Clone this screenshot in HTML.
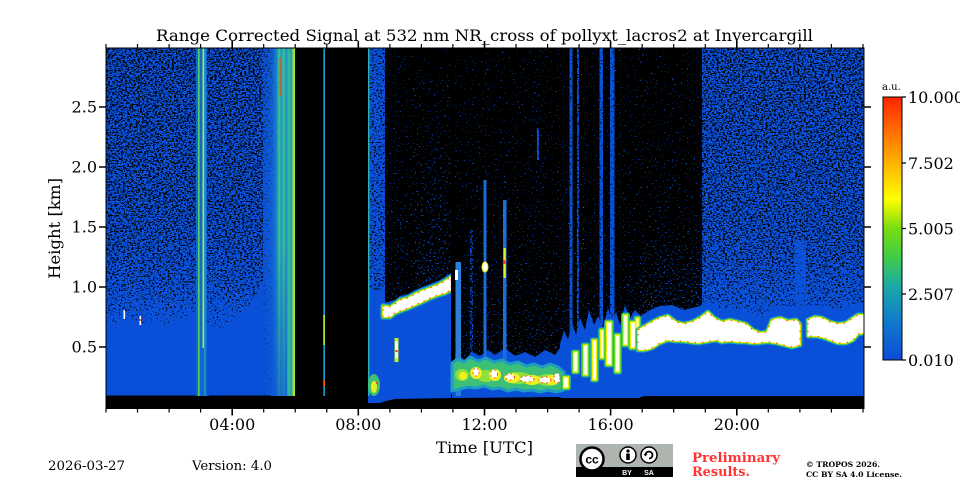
<!DOCTYPE html>
<html><head><meta charset="utf-8"><style>
html,body{margin:0;padding:0;background:#fff;}
svg{display:block;}
text{font-family:"DejaVu Serif","Liberation Serif",serif;fill:#000;}
</style></head><body>
<svg width="960" height="480" viewBox="0 0 960 480" xmlns="http://www.w3.org/2000/svg">
<defs>
 <filter id="spk" filterUnits="userSpaceOnUse" x="106" y="48" width="758" height="360" color-interpolation-filters="sRGB">
  <feTurbulence type="fractalNoise" baseFrequency="0.47 0.71" numOctaves="2" seed="11" result="t"/>
  <feColorMatrix in="t" type="matrix" values="0 0 0 0.7 0.15  0 0 0 0 0  0 0 0 0 0  0 0 0 0 1" result="n"/>
  <feComposite in="n" in2="SourceGraphic" operator="arithmetic" k1="0" k2="1" k3="1" k4="-0.5" result="c"/>
  <feColorMatrix in="c" type="matrix" values="0 0 0 0 0.04  0 0 0 0 0.32  0 0 0 0 0.86  1 0 0 0 0" result="a"/>
  <feComponentTransfer in="a"><feFuncA type="discrete" tableValues="0 1"/></feComponentTransfer>
 </filter>
 <clipPath id="pc"><rect x="106" y="48" width="758" height="361"/></clipPath>
 <linearGradient id="dL" gradientUnits="userSpaceOnUse" x1="0" y1="48" x2="0" y2="395">
  <stop offset="0" stop-color="#868686"/><stop offset="0.44" stop-color="#888888"/>
  <stop offset="0.58" stop-color="#8b8b8b"/><stop offset="0.70" stop-color="#919191"/>
  <stop offset="0.78" stop-color="#a0a0a0"/>
 </linearGradient>
 <linearGradient id="dM" gradientUnits="userSpaceOnUse" x1="0" y1="48" x2="0" y2="395">
  <stop offset="0" stop-color="#8e8e8e"/><stop offset="0.5" stop-color="#9e9e9e"/><stop offset="1" stop-color="#9e9e9e"/>
 </linearGradient>
 <linearGradient id="dC1" gradientUnits="userSpaceOnUse" x1="0" y1="48" x2="0" y2="395">
  <stop offset="0" stop-color="#545454"/><stop offset="0.44" stop-color="#575757"/>
  <stop offset="0.73" stop-color="#5c5c5c"/><stop offset="1" stop-color="#5c5c5c"/>
 </linearGradient>
 <linearGradient id="dC2" gradientUnits="userSpaceOnUse" x1="0" y1="48" x2="0" y2="395">
  <stop offset="0" stop-color="#545454"/><stop offset="0.27" stop-color="#585858"/>
  <stop offset="0.53" stop-color="#606060"/><stop offset="0.67" stop-color="#646464"/><stop offset="1" stop-color="#646464"/>
 </linearGradient>
 <linearGradient id="dD" gradientUnits="userSpaceOnUse" x1="0" y1="48" x2="0" y2="395">
  <stop offset="0" stop-color="#545454"/><stop offset="0.58" stop-color="#575757"/>
  <stop offset="0.81" stop-color="#5c5c5c"/><stop offset="1" stop-color="#5e5e5e"/>
 </linearGradient>
 <linearGradient id="dE" gradientUnits="userSpaceOnUse" x1="0" y1="48" x2="0" y2="395">
  <stop offset="0" stop-color="#545454"/><stop offset="0.5" stop-color="#585858"/>
  <stop offset="0.73" stop-color="#646464"/><stop offset="1" stop-color="#686868"/>
 </linearGradient>
 <linearGradient id="dR" gradientUnits="userSpaceOnUse" x1="0" y1="48" x2="0" y2="395">
  <stop offset="0" stop-color="#878787"/><stop offset="0.44" stop-color="#898989"/>
  <stop offset="0.61" stop-color="#8c8c8c"/><stop offset="0.73" stop-color="#969696"/><stop offset="0.8" stop-color="#a6a6a6"/>
 </linearGradient>
 <linearGradient id="hz" gradientUnits="userSpaceOnUse" x1="263" y1="0" x2="295" y2="0">
  <stop offset="0" stop-color="#0d56d8" stop-opacity="0.3"/><stop offset="0.28" stop-color="#1266d6" stop-opacity="0.7"/>
  <stop offset="0.44" stop-color="#1a88cc"/><stop offset="0.5" stop-color="#48c880"/>
  <stop offset="0.56" stop-color="#1e98c4"/><stop offset="0.66" stop-color="#40c08c"/>
  <stop offset="0.72" stop-color="#1a8ccc"/><stop offset="0.81" stop-color="#3cbc90"/>
  <stop offset="0.88" stop-color="#1e94c6"/><stop offset="0.95" stop-color="#8ee040"/>
  <stop offset="1" stop-color="#c0f020"/>
 </linearGradient>
 <linearGradient id="fadeB" gradientUnits="userSpaceOnUse" x1="0" y1="240" x2="0" y2="396">
  <stop offset="0" stop-color="#0a4fd8" stop-opacity="0"/><stop offset="1" stop-color="#0a4fd8" stop-opacity="0.6"/>
 </linearGradient>
 <linearGradient id="cb" x1="0" y1="1" x2="0" y2="0">
  <stop offset="0" stop-color="#0c4cd8"/><stop offset="0.14" stop-color="#1078cc"/>
  <stop offset="0.28" stop-color="#1aa8a8"/><stop offset="0.39" stop-color="#40cc48"/>
  <stop offset="0.5" stop-color="#78dc10"/><stop offset="0.61" stop-color="#ffff00"/>
  <stop offset="0.76" stop-color="#ffac00"/><stop offset="0.88" stop-color="#ff6800"/>
  <stop offset="1" stop-color="#ff2400"/>
 </linearGradient>
 <g id="L1"><polygon points="383,306 390,307 395,304 400,300 408,298 415,294 422,291 430,288 438,285 445,281 451,277 451,290 445,293 438,295 430,298 422,302 415,305 408,308 400,311 395,313 390,317 383,317"/></g>
 <g id="L3">
  <polygon points="638,330 645,326 652,322 660,318 668,316 676,322 684,324 692,322 700,318 708,312 714,318 722,322 730,320 738,322 746,324 753,330 760,333 767,332 772,320 780,318 788,321 796,320 800,324 800,345 792,347 784,345 776,343 770,342 765,342 758,343 752,343 745,342 738,342 730,341 722,342 716,340 710,341 704,342 698,343 690,342 682,341 676,341 668,340 660,343 652,348 645,350 638,350"/>
  <polygon points="808,320 815,317 822,318 830,322 838,324 846,323 853,318 858,315 868,315 868,332 858,334 853,340 846,343 838,343 830,340 822,337 815,336 808,336"/>
 </g>
 <g id="SP">
  <rect x="573.5" y="352" width="4" height="20"/><rect x="583.5" y="345" width="4" height="30"/>
  <rect x="592.5" y="340" width="4" height="40"/><rect x="600.5" y="330" width="3" height="28"/>
  <rect x="606.5" y="322" width="5" height="43"/><rect x="615.5" y="335" width="4" height="37"/>
  <rect x="623.5" y="315" width="4" height="30"/><rect x="630.5" y="322" width="5" height="26"/>
  <rect x="636" y="318" width="3" height="20"/><rect x="563.5" y="377" width="5" height="11"/>
 </g>
</defs>

<rect width="960" height="480" fill="#fff"/>

<g clip-path="url(#pc)">
 <rect x="106" y="48" width="758" height="361" fill="#000"/>
 <!-- speckle density field -->
 <g filter="url(#spk)">
  <rect x="106" y="48" width="758" height="348" fill="#000"/>
  <rect x="106" y="48" width="157" height="348" fill="url(#dL)"/>
  <rect x="263" y="48" width="32" height="348" fill="url(#dM)"/>
  <rect x="368" y="48" width="17" height="348" fill="#939393"/>
  <rect x="385" y="48" width="30" height="348" fill="url(#dC1)"/>
  <rect x="415" y="48" width="37" height="348" fill="url(#dC2)"/>
  <rect x="452" y="48" width="188" height="348" fill="url(#dD)"/>
  <rect x="640" y="48" width="62" height="348" fill="url(#dE)"/>
  <rect x="702" y="48" width="162" height="348" fill="url(#dR)"/>
  <rect x="569.5" y="48" width="3" height="348" fill="#9e9e9e"/>
  <rect x="577" y="48" width="2" height="348" fill="#8c8c8c"/>
  <rect x="599.5" y="48" width="3.5" height="348" fill="#9e9e9e"/>
  <rect x="610" y="48" width="4.5" height="348" fill="#9e9e9e"/>
  <rect x="537" y="128" width="2" height="32" fill="#9e9e9e"/>
  <rect x="470" y="230" width="3" height="130" fill="#7a7a7a"/>
  <rect x="795" y="240" width="11" height="80" fill="#a6a6a6"/>
 </g>

 <!-- solid blue regions -->
 <g fill="#0a4fd8">
  <polygon points="106,322 118,324 130,319 142,326 155,320 168,326 182,318 196,312 210,326 222,330 236,318 248,306 258,292 263,280 263,396 106,396"/>
  <rect x="368" y="290" width="17" height="114"/>
  <polygon points="383,303 395,300 400,296 408,294 415,290 422,287 430,284 438,281 445,277 451,273 451,399 383,401"/>
  <polygon points="452,362 458,355 465,360 472,352 480,356 488,350 495,355 505,348 515,356 525,352 535,357 545,350 555,355 562,345 562,398 452,398"/>
  <polygon points="560,345 564,330 568,340 572,322 576,335 580,318 585,330 589,310 594,325 598,316 603,328 608,308 612,322 616,312 620,325 625,305 630,318 635,310 640,315 640,398 560,398"/>
  <polygon points="638,318 650,310 660,306 672,305 684,310 700,306 708,300 720,308 735,308 750,312 765,318 772,306 790,306 800,310 808,305 825,306 840,310 853,304 864,302 864,397 638,397"/>
 </g>

 <!-- 3h streak -->
 <rect x="196" y="48" width="11" height="348" fill="#1566d4"/>
 <rect x="198" y="48" width="1.6" height="348" fill="#50d060"/>
 <rect x="202.5" y="48" width="1.6" height="300" fill="#a8ec30"/>
 <rect x="204.1" y="48" width="1.5" height="348" fill="#1e9ac4"/>

 <!-- 5h cloud/rain -->
 <rect x="263" y="48" width="32" height="348" fill="url(#hz)"/>
 <rect x="263" y="240" width="24" height="156" fill="url(#fadeB)"/>
 <rect x="279.5" y="58" width="1.2" height="38" fill="#ff4a10"/>

 <!-- small marks left -->
 <rect x="123.5" y="310" width="1.6" height="9" fill="#fff"/>
 <rect x="139.5" y="316" width="1.6" height="9" fill="#fff"/>
 <rect x="139.5" y="319" width="1.6" height="2" fill="#f42"/>

 <!-- column ~8h -->
 <rect x="368" y="48" width="1.4" height="348" fill="#2ab0b0"/>
 <ellipse cx="374" cy="385" rx="6" ry="11" fill="#40c070"/>
 <ellipse cx="374" cy="387" rx="3" ry="6" fill="#e0f020"/>
 <rect x="376" y="382" width="2" height="2" fill="#f42"/>
 <rect x="394.5" y="338" width="4" height="24" fill="#c0f020"/>
 <rect x="395.3" y="341" width="2.4" height="17" fill="#fff"/>
 <rect x="395.3" y="350" width="2.4" height="2" fill="#f42"/>

 <!-- layer 1 -->
 <use href="#L1" fill="none" stroke="#1e9cc4" stroke-width="5.5" stroke-linejoin="round"/>
 <use href="#L1" fill="none" stroke="#46d040" stroke-width="3.6" stroke-linejoin="round"/>
 <use href="#L1" fill="none" stroke="#f2f000" stroke-width="1.8" stroke-linejoin="round"/>
 <use href="#L1" fill="#fff" stroke="#ff3a10" stroke-width="1" stroke-dasharray="1.5 5"/>

 <!-- streaks 11-13h -->
 <rect x="455.5" y="262" width="5.5" height="134" fill="#2a80d8"/>
 <rect x="455" y="270" width="3" height="10" fill="#fff"/>
 <rect x="483.5" y="180" width="3" height="180" fill="#1a6cd8"/>
 <ellipse cx="485" cy="267" rx="3" ry="5" fill="#fff" stroke="#e8f000" stroke-width="1"/>
 <rect x="503" y="200" width="3.5" height="160" fill="#1a70d8"/>
 <rect x="503.5" y="248" width="2.3" height="30" fill="#e0f020"/>
 <rect x="503.5" y="260" width="2.3" height="4" fill="#f42"/>

 <!-- bottom layer 11-15h -->
 <polygon points="452,363 458,359 464,362 470,357 478,361 486,358 494,362 502,360 510,364 518,362 526,366 534,364 542,367 550,364 558,367 564,372 564,390 556,392 548,390 540,392 532,390 524,391 516,389 508,391 500,388 492,389 484,386 476,388 468,387 460,389 452,391" fill="#3cc078" stroke="#1e9cc4" stroke-width="3" stroke-linejoin="round"/>
 <g fill="#8ee03a">
  <ellipse cx="462" cy="375" rx="7" ry="6"/><ellipse cx="486" cy="376" rx="9" ry="6"/>
  <ellipse cx="518" cy="378" rx="14" ry="6"/><ellipse cx="548" cy="380" rx="12" ry="6"/>
 </g>
 <g fill="#f0f020">
  <ellipse cx="463" cy="376" rx="4" ry="4"/><ellipse cx="476" cy="373" rx="6" ry="6"/>
  <ellipse cx="495" cy="375" rx="6" ry="6"/><ellipse cx="512" cy="378" rx="8" ry="5"/>
  <ellipse cx="532" cy="380" rx="9" ry="5"/><ellipse cx="552" cy="380" rx="8" ry="5"/>
 </g>
 <g fill="#fff" stroke="#ff3a10" stroke-width="1" stroke-dasharray="1.5 3">
  <ellipse cx="476" cy="372" rx="3" ry="4"/><ellipse cx="494" cy="374" rx="3.5" ry="4"/>
  <ellipse cx="510" cy="377" rx="4.5" ry="3"/><ellipse cx="527" cy="379" rx="7" ry="3"/>
  <ellipse cx="545" cy="380" rx="6" ry="3"/><ellipse cx="557" cy="378" rx="3" ry="5"/>
 </g>

 <!-- spikes 15-17h -->
 <use href="#SP" fill="none" stroke="#1e9cc4" stroke-width="5" stroke-linejoin="round"/>
 <use href="#SP" fill="none" stroke="#3cd040" stroke-width="3.4" stroke-linejoin="round"/>
 <use href="#SP" fill="#fff" stroke="#f4f000" stroke-width="1.3"/>

 <!-- layer 17-24h -->
 <use href="#L3" fill="none" stroke="#1e9cc4" stroke-width="5" stroke-linejoin="round"/>
 <use href="#L3" fill="none" stroke="#46d040" stroke-width="3.4" stroke-linejoin="round"/>
 <use href="#L3" fill="none" stroke="#f2f000" stroke-width="1.8" stroke-linejoin="round"/>
 <use href="#L3" fill="#fff" stroke="#ff3a10" stroke-width="1" stroke-dasharray="1.5 6"/>

 <!-- black gaps -->
 <rect x="295" y="48" width="28.3" height="361" fill="#000"/>
 <rect x="325" y="48" width="43" height="361" fill="#000"/>
 <rect x="451" y="48" width="4" height="310" fill="#000"/>
 <rect x="323.3" y="48" width="1.7" height="348" fill="#1c98c8"/>
 <rect x="323.3" y="315" width="1.7" height="30" fill="#a0e830"/>
 <rect x="323.3" y="380" width="1.7" height="6" fill="#ff5000"/>

 <!-- bottom black strip -->
 <path d="M106,395.5 L196,395.5 L198,399 L207,399 L209,395.5 L270,395.5 L274,398 L282,401 L290,399 L295,396 L368,396 L368,403 L380,403 L386,401 L395,399 L452,398 L560,397 L563,400 L640,398 L644,396 L864,396 L864,410 L106,410 Z" fill="#000"/>
</g>

<!-- frame -->
<rect x="106" y="48" width="758" height="360.5" fill="none" stroke="#000" stroke-width="1"/>

<!-- ticks -->
<g stroke="#000" stroke-width="1.6">
 <path d="M99,107H106M99,167H106M99,227H106M99,287H106M99,347H106"/>
 <path d="M864,107H871M864,167H871M864,227H871M864,287H871M864,347H871"/>
 <path d="M232.2,48v-7M358.3,48v-7M484.5,48v-7M610.6,48v-7M736.8,48v-7"/>
 <path d="M232.2,408.5v7M358.3,408.5v7M484.5,408.5v7M610.6,408.5v7M736.8,408.5v7"/>
</g>
<g stroke="#000" stroke-width="1.2">
 <path d="M106,48v-4M137.5,48v-4M169.1,48v-4M200.6,48v-4M263.7,48v-4M295.2,48v-4M326.8,48v-4M389.9,48v-4M421.4,48v-4M452.9,48v-4M516,48v-4M547.6,48v-4M579.1,48v-4M642.2,48v-4M673.7,48v-4M705.3,48v-4M768.3,48v-4M799.9,48v-4M831.4,48v-4M863,48v-4"/>
 <path d="M106,408.5v4M137.5,408.5v4M169.1,408.5v4M200.6,408.5v4M263.7,408.5v4M295.2,408.5v4M326.8,408.5v4M389.9,408.5v4M421.4,408.5v4M452.9,408.5v4M516,408.5v4M547.6,408.5v4M579.1,408.5v4M642.2,408.5v4M673.7,408.5v4M705.3,408.5v4M768.3,408.5v4M799.9,408.5v4M831.4,408.5v4M863,408.5v4"/>
</g>

<!-- tick labels -->
<g font-size="16" text-anchor="end">
 <text x="97" y="112.5">2.5</text><text x="97" y="172.5">2.0</text>
 <text x="97" y="232.5">1.5</text><text x="97" y="292.5">1.0</text>
 <text x="97" y="352.5">0.5</text>
</g>
<g font-size="16" text-anchor="middle">
 <text x="232.2" y="430">04:00</text><text x="358.3" y="430">08:00</text>
 <text x="484.5" y="430">12:00</text><text x="610.6" y="430">16:00</text>
 <text x="736.8" y="430">20:00</text>
</g>

<!-- titles -->
<text x="156" y="41" font-size="15.5" textLength="657" lengthAdjust="spacingAndGlyphs">Range Corrected Signal at 532 nm NR_cross of pollyxt_lacros2 at Invercargill</text>
<text x="436" y="453" font-size="16" textLength="97" lengthAdjust="spacingAndGlyphs">Time [UTC]</text>
<text transform="translate(60,279) rotate(-90)" font-size="16" textLength="101" lengthAdjust="spacingAndGlyphs">Height [km]</text>

<!-- colorbar -->
<rect x="883" y="97" width="19" height="263" fill="url(#cb)" stroke="#000" stroke-width="1"/>
<g stroke="#000" stroke-width="1.2">
 <path d="M902,97h4M902,163h4M902,228.5h4M902,294h4M902,360h4"/>
</g>
<text x="882" y="90" font-size="10">a.u.</text>
<g font-size="16">
 <text x="908" y="103">10.000</text>
 <text x="908" y="169">7.502</text>
 <text x="908" y="234.5">5.005</text>
 <text x="908" y="300">2.507</text>
 <text x="908" y="366">0.010</text>
</g>

<!-- footer -->
<text x="48" y="470" font-size="13" textLength="77" lengthAdjust="spacingAndGlyphs">2026-03-27</text>
<text x="192" y="470" font-size="13" textLength="80" lengthAdjust="spacingAndGlyphs">Version: 4.0</text>

<!-- CC logo -->
<rect x="576" y="444" width="97" height="33" fill="#aeb4ae"/>
<rect x="576" y="467" width="97" height="10" fill="#000"/>
<circle cx="592" cy="459" r="11.5" fill="#fff" stroke="#000" stroke-width="2.5"/>
<text x="592" y="463.5" font-size="12" font-weight="bold" text-anchor="middle" style="font-family:'Liberation Sans',sans-serif">cc</text>
<circle cx="628" cy="455" r="8" fill="#fff" stroke="#000" stroke-width="1.5"/>
<circle cx="628" cy="451" r="1.6" fill="#000"/>
<rect x="626.2" y="453.5" width="3.6" height="6.5" fill="#000"/>
<circle cx="649" cy="455" r="8" fill="#fff" stroke="#000" stroke-width="1.5"/>
<path d="M645.5,455 a3.5,3.5 0 1,1 3.5,3.5" fill="none" stroke="#000" stroke-width="1.8"/>
<path d="M643.5,454 l2,2.5 l2,-2.5 z" fill="#000"/>
<text x="627" y="475" font-size="7" font-weight="bold" text-anchor="middle" style="fill:#fff;font-family:'Liberation Sans',sans-serif">BY</text>
<text x="649" y="475" font-size="7" font-weight="bold" text-anchor="middle" style="fill:#fff;font-family:'Liberation Sans',sans-serif">SA</text>

<text x="692" y="462" font-size="13" font-weight="bold" textLength="88" lengthAdjust="spacingAndGlyphs" style="fill:#f33">Preliminary</text>
<text x="692" y="476" font-size="13" font-weight="bold" textLength="58" lengthAdjust="spacingAndGlyphs" style="fill:#f33">Results.</text>
<text x="806" y="467" font-size="7.5" font-weight="bold" textLength="74" lengthAdjust="spacingAndGlyphs">© TROPOS 2026.</text>
<text x="806" y="477" font-size="7.5" font-weight="bold" textLength="96" lengthAdjust="spacingAndGlyphs">CC BY SA 4.0 License.</text>
</svg>
</body></html>
